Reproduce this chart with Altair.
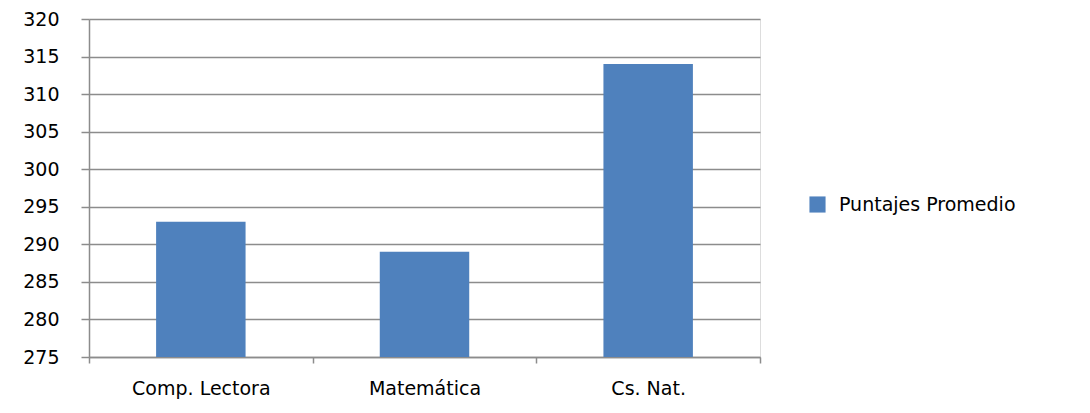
import altair as alt
import pandas as pd

# Average scores per subject
materias = ["Comp. Lectora", "Matemática", "Cs. Nat."]
puntajes = [293, 289, 314]
serie = ["Puntajes Promedio"] * len(materias)

df = pd.DataFrame({"Materia": materias, "Puntaje": puntajes, "Serie": serie})

FONT = "DejaVu Sans"
FSIZE = 19
GRID = "#8c8c8c"

chart = (
    alt.Chart(df)
    .mark_bar(width=alt.RelativeBandSize(0.4), color="#4F81BD", clip=True)
    .encode(
        x=alt.X(
            "Materia:N",
            sort=materias,
            title=None,
            scale=alt.Scale(paddingInner=0, paddingOuter=0),
            axis=alt.Axis(
                labelAngle=0,
                tickBand="extent",
                tickSize=6,
                tickColor=GRID,
                domainColor=GRID,
                domainWidth=1.5,
                tickWidth=1.5,
                labelPadding=16,
                labelFontSize=FSIZE,
                labelFont=FONT,
                labelColor="#000000",
                grid=False,
            ),
        ),
        y=alt.Y(
            "Puntaje:Q",
            title=None,
            scale=alt.Scale(domain=[275, 320], nice=False, zero=False),
            axis=alt.Axis(
                values=list(range(275, 321, 5)),
                tickSize=8,
                tickColor=GRID,
                domainColor=GRID,
                domainWidth=1.5,
                tickWidth=1.5,
                gridColor=GRID,
                gridWidth=1.5,
                labelPadding=22,
                labelFontSize=FSIZE,
                labelFont=FONT,
                labelColor="#000000",
            ),
        ),
        color=alt.Color(
            "Serie:N",
            scale=alt.Scale(range=["#4F81BD"]),
            legend=alt.Legend(
                title=None,
                orient="none",
                legendX=719,
                legendY=176,
                symbolType="square",
                symbolSize=260,
                symbolStrokeWidth=0,
                labelFontSize=FSIZE,
                labelFont=FONT,
                labelColor="#000000",
                labelOffset=12,
                labelLimit=400,
            ),
        ),
    )
    .properties(
        width=671,
        height=338,
        autosize=alt.AutoSizeParams(type="none"),
        padding={"left": 89, "top": 19, "right": 330, "bottom": 56},
    )
    .configure_view(stroke=None)
    .configure(background="#ffffff")
)

chart.save("out.html", embed_options={"renderer": "svg", "actions": False})
